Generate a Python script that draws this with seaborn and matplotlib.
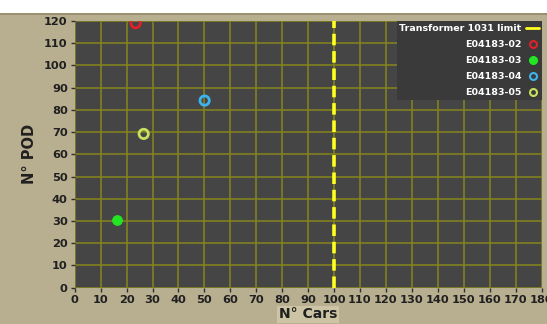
import matplotlib
matplotlib.use("Agg")
import matplotlib.pyplot as plt
import seaborn as sns
import pandas as pd
from matplotlib.lines import Line2D
from matplotlib.patches import Rectangle
from matplotlib import font_manager

# ---- data ----
series = ["E04183-02", "E04183-03", "E04183-04", "E04183-05"]
cars = [23.5, 16.3, 50.1, 26.6]
pods = [119.0, 30.3, 84.2, 69.2]
limit_label = "Transformer 1031 limit"
limit_cars = 100
x_ticks = list(range(0, 181, 10))
y_ticks = list(range(0, 121, 10))

colors = {"E04183-02": "#e0202a", "E04183-03": "#22e622",
          "E04183-04": "#3cb4f0", "E04183-05": "#c8e060"}
filled = {"E04183-02": False, "E04183-03": True,
          "E04183-04": False, "E04183-05": False}

df = pd.DataFrame({"series": series, "cars": cars, "pods": pods})

sns.set_theme(style="dark")
names = {f.name for f in font_manager.fontManager.ttflist}
fam = [n for n in ["Liberation Sans Narrow", "DejaVu Sans"] if n in names]
plt.rcParams["font.family"] = fam

BG = "#b8ae90"
PLOT = "#454545"
GRID = "#86861a"

fig = plt.figure(figsize=(5.47, 3.24), dpi=100)
fig.patch.set_facecolor(BG)
fig.patches.append(Rectangle((0, 310 / 324), 1, 14 / 324, transform=fig.transFigure,
                             facecolor="white", edgecolor="none", zorder=0))
fig.patches.append(Rectangle((0, 309 / 324), 1, 1.5 / 324, transform=fig.transFigure,
                             facecolor="#9a9070", edgecolor="none", zorder=0))

ax = fig.add_axes([74.7 / 547, (324 - 287.7) / 324, (541.5 - 74.7) / 547, (287.7 - 21) / 324])
ax.set_facecolor(PLOT)

for s in series:
    sub = df[df["series"] == s]
    if filled[s]:
        sns.scatterplot(data=sub, x="cars", y="pods", ax=ax, color=colors[s],
                        s=45, edgecolor=colors[s], linewidth=1, zorder=5, legend=False)
    else:
        sns.scatterplot(data=sub, x="cars", y="pods", ax=ax, facecolor="none",
                        edgecolor=colors[s], s=45, linewidth=2, zorder=5, legend=False)

ax.axvline(limit_cars, color="#ffff20", lw=2.6, ls=(0, (3.2, 1.6)), zorder=4)

ax.set_xlim(0, 180)
ax.set_ylim(0, 120)
ax.set_xticks(x_ticks)
ax.set_yticks(y_ticks)
ax.grid(True, color=GRID, lw=1.1, alpha=1)
ax.set_axisbelow(True)
for sp in ax.spines.values():
    sp.set_visible(False)

ax.tick_params(axis="both", which="major", length=3, width=1, color="#303030",
               labelsize=8.2, labelcolor="#202020", pad=2, bottom=True, left=True)
for lbl in ax.get_xticklabels() + ax.get_yticklabels():
    lbl.set_fontweight("bold")

ax.set_xlabel("N° Cars", fontsize=10, fontweight="bold", color="#202020", labelpad=2,
              bbox=dict(facecolor="#cdc4a6", edgecolor="none", pad=1.2))
ax.set_ylabel("N° POD", fontsize=10.5, fontweight="bold", color="#202020", labelpad=5)

handles = [Line2D([0], [0], color="#ffff20", lw=2)]
labels = [limit_label]
for s in series:
    handles.append(Line2D([0], [0], ls="none", marker="o", markersize=5,
                          markerfacecolor=colors[s] if filled[s] else "none",
                          markeredgecolor=colors[s], markeredgewidth=1.5))
    labels.append(s)
leg = ax.legend(handles, labels, loc="upper right", markerfirst=False, frameon=True,
                facecolor="#3a3a3a", edgecolor="none", framealpha=1, fontsize=6.8,
                labelcolor="white", borderaxespad=0, handlelength=1.3,
                labelspacing=0.75, borderpad=0.3, handletextpad=0.5)
for t in leg.get_texts():
    t.set_fontweight("bold")
leg.get_frame().set_boxstyle("square", pad=0)

fig.savefig("out.png", dpi=100, facecolor=fig.get_facecolor())
